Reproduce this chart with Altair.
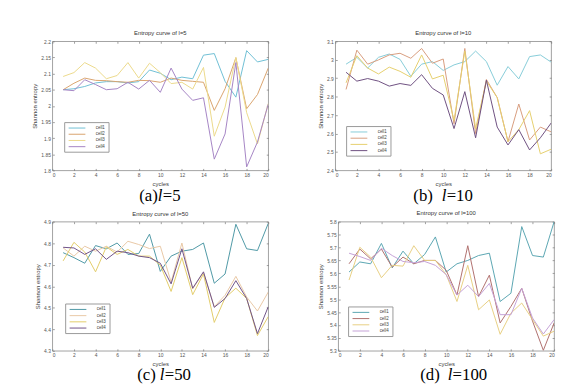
import altair as alt
import pandas as pd

cycles = list(range(1, 21))
cells = ["cell1", "cell2", "cell3", "cell4"]
x_ticks = list(range(0, 21, 2))

# (a) l=5
a_cell1 = [2.050, 2.053, 2.060, 2.071, 2.075, 2.075, 2.071, 2.075, 2.111, 2.101, 2.081, 2.089, 2.084, 2.157, 2.162, 2.076, 2.027, 2.171, 2.136, 2.144]
a_cell2 = [2.050, 2.070, 2.086, 2.079, 2.078, 2.075, 2.073, 2.079, 2.078, 2.073, 2.086, 2.079, 2.076, 2.073, 1.986, 2.053, 2.149, 1.991, 2.035, 2.117]
a_cell3 = [2.091, 2.103, 2.134, 2.117, 2.084, 2.094, 2.134, 2.086, 2.132, 2.103, 2.069, 2.073, 2.052, 2.119, 1.906, 1.996, 2.150, 1.979, 1.882, 2.007]
a_cell4 = [2.050, 2.047, 2.081, 2.066, 2.050, 2.053, 2.073, 2.052, 2.079, 2.042, 2.117, 2.052, 2.017, 2.025, 1.835, 1.913, 2.134, 1.811, 1.888, 2.005]
a_yticks = [1.8, 1.85, 1.9, 1.95, 2.0, 2.05, 2.1, 2.15, 2.2]

# (b) l=10
b_cell1 = [2.976, 3.013, 2.955, 3.013, 3.031, 3.002, 2.910, 2.976, 2.990, 2.942, 2.972, 2.990, 3.047, 2.990, 2.862, 2.963, 2.896, 3.017, 3.026, 2.987]
b_cell2 = [2.839, 3.052, 2.976, 2.999, 3.026, 3.035, 3.008, 3.061, 2.981, 3.004, 2.653, 3.061, 2.600, 2.893, 2.795, 2.556, 2.760, 2.565, 2.635, 2.609]
b_cell3 = [2.875, 3.022, 2.955, 2.923, 2.960, 2.937, 2.905, 3.026, 2.896, 2.916, 2.671, 3.047, 2.627, 2.884, 2.795, 2.556, 2.621, 2.724, 2.490, 2.515]
b_cell4 = [2.932, 2.884, 2.898, 2.884, 2.857, 2.871, 2.861, 2.919, 2.845, 2.809, 2.627, 2.827, 2.577, 2.889, 2.635, 2.538, 2.621, 2.511, 2.577, 2.657]
b_yticks = [2.4, 2.5, 2.6, 2.7, 2.8, 2.9, 3.0, 3.1]

# (c) l=50
c_cell1 = [4.756, 4.733, 4.707, 4.789, 4.774, 4.801, 4.748, 4.752, 4.842, 4.669, 4.740, 4.763, 4.771, 4.801, 4.614, 4.657, 4.888, 4.774, 4.766, 4.892]
c_cell2 = [4.778, 4.740, 4.786, 4.763, 4.786, 4.759, 4.809, 4.794, 4.775, 4.786, 4.619, 4.801, 4.588, 4.664, 4.505, 4.558, 4.646, 4.550, 4.485, 4.573]
c_cell3 = [4.718, 4.804, 4.759, 4.667, 4.783, 4.748, 4.771, 4.740, 4.740, 4.698, 4.576, 4.733, 4.561, 4.657, 4.432, 4.546, 4.591, 4.543, 4.371, 4.459]
c_cell4 = [4.781, 4.778, 4.748, 4.774, 4.725, 4.763, 4.756, 4.740, 4.733, 4.707, 4.611, 4.774, 4.591, 4.667, 4.502, 4.543, 4.626, 4.543, 4.380, 4.505]
c_yticks = [4.3, 4.4, 4.5, 4.6, 4.7, 4.8, 4.9]

# (d) l=100
d_cell1 = [5.605, 5.644, 5.637, 5.716, 5.621, 5.686, 5.637, 5.673, 5.741, 5.605, 5.637, 5.650, 5.669, 5.678, 5.491, 5.523, 5.781, 5.669, 5.663, 5.800]
d_cell2 = [5.637, 5.694, 5.656, 5.694, 5.624, 5.663, 5.637, 5.650, 5.650, 5.612, 5.516, 5.707, 5.510, 5.593, 5.408, 5.472, 5.542, 5.415, 5.302, 5.408]
d_cell3 = [5.574, 5.701, 5.663, 5.583, 5.631, 5.628, 5.707, 5.650, 5.650, 5.595, 5.491, 5.631, 5.459, 5.497, 5.364, 5.446, 5.485, 5.421, 5.357, 5.376]
d_cell4 = [5.678, 5.665, 5.650, 5.697, 5.669, 5.646, 5.641, 5.646, 5.631, 5.595, 5.516, 5.554, 5.510, 5.561, 5.440, 5.440, 5.542, 5.427, 5.365, 5.421]
d_yticks = [5.3, 5.35, 5.4, 5.45, 5.5, 5.55, 5.6, 5.65, 5.7, 5.75, 5.8]

titles = ["Entropy curve of l=5", "Entropy curve of l=10", "Entropy curve of l=50", "Entropy curve of l=100"]
cap_prefix = ["(a)", "(b)", "(c)", "(d)"]
cap_italic = ["l", "l", "l", "l"]
cap_suffix = ["=5", "=10", "=50", "=100"]

W, H = 219, 131


def panel(i, series, ydom, yticks, colors, leg_xy, cap_x):
    rows = []
    for name, vals in zip(cells, series):
        for c, v in zip(cycles, vals):
            rows.append({"cycle": c, "cell": name, "entropy": v})
    df = pd.DataFrame(rows)
    xscale = alt.Scale(domain=[0, 20], nice=False)
    yscale = alt.Scale(domain=ydom, nice=False, zero=False)
    lines = alt.Chart(df).mark_line(strokeWidth=1, clip=True).encode(
        x=alt.X("cycle:Q", scale=xscale,
                axis=alt.Axis(values=x_ticks, title="cycles", format="d")),
        y=alt.Y("entropy:Q", scale=yscale,
                axis=alt.Axis(values=yticks, title="Shannon entropy", format="~g")),
        color=alt.Color("cell:N", scale=alt.Scale(domain=cells, range=colors),
                        legend=alt.Legend(orient="none", legendX=leg_xy[0], legendY=leg_xy[1],
                                          title=None, fillColor="white", strokeColor="#999",
                                          padding=3, symbolType="M-3.4,0H3.4", symbolSize=25,
                                          symbolStrokeWidth=1, symbolOffset=7, labelOffset=16,
                                          labelFontSize=4.5, labelColor="#444", rowPadding=1.3,
                                          labelFont="Liberation Sans")),
    )
    # tick marks on the top and right edges of the box
    frame = alt.Chart(df).mark_point(opacity=0).encode(
        x=alt.X("cycle:Q", scale=xscale,
                axis=alt.Axis(values=x_ticks, title=None, labels=False, orient="top")),
        y=alt.Y("entropy:Q", scale=yscale,
                axis=alt.Axis(values=yticks, title=None, labels=False, orient="right")),
    )
    cap = pd.DataFrame({"p": [cap_prefix[i]], "l": [cap_italic[i]], "s": [cap_suffix[i]]})
    base = alt.Chart(cap)
    t1 = base.mark_text(font="Liberation Serif", fontSize=17, align="right", baseline="alphabetic", color="black").encode(
        x=alt.value(cap_x[0]), y=alt.value(cap_x[3]), text="p:N")
    t2 = base.mark_text(font="Liberation Serif", fontSize=17, fontStyle="italic", align="left", baseline="alphabetic", color="black").encode(
        x=alt.value(cap_x[1]), y=alt.value(cap_x[3]), text="l:N")
    t3 = base.mark_text(font="Liberation Serif", fontSize=17, align="left", baseline="alphabetic", color="black").encode(
        x=alt.value(cap_x[2]), y=alt.value(cap_x[3]), text="s:N")
    return alt.layer(lines, frame, t1, t2, t3).resolve_axis(x="independent", y="independent").properties(
        width=W, height=H,
        title=alt.TitleParams(titles[i], fontSize=6, offset=3, anchor="middle",
                              fontWeight="normal", color="#333", font="Liberation Sans"),
    )


pa = panel(0, [a_cell1, a_cell2, a_cell3, a_cell4], [1.8, 2.2], a_yticks,
           ["#6fbfd4", "#d9a46e", "#ecd98a", "#a584c4"], (12, 82), (107, 107, 112, 162))
pb = panel(1, [b_cell1, b_cell2, b_cell3, b_cell4], [2.4, 3.1], b_yticks,
           ["#86ccd8", "#d79c7e", "#e6cf6e", "#6e4f80"], (11, 86), (99, 108, 113, 162))
pc = panel(2, [c_cell1, c_cell2, c_cell3, c_cell4], [4.3, 4.9], c_yticks,
           ["#4e98a6", "#e9c8a6", "#e3cc6a", "#6f5288"], (13, 83), (105, 109, 114, 161))
pd_ = panel(3, [d_cell1, d_cell2, d_cell3, d_cell4], [5.3, 5.8], d_yticks,
            ["#5aa6b2", "#b0706e", "#e8cf82", "#c4a2d6"], (10, 86), (103, 111, 116, 161))

row1 = alt.hconcat(pa, pb, spacing=45).resolve_scale(color="independent")
row2 = alt.hconcat(pc, pd_, spacing=45).resolve_scale(color="independent")

chart = alt.vconcat(row1, row2, spacing=4).resolve_scale(color="independent").properties(
    padding={"left": 23, "top": 19, "right": 5, "bottom": 5}, background="white"
).configure_view(
    stroke="#777", strokeWidth=0.7
).configure_axis(
    grid=False, domain=False, ticks=True, tickSize=2, tickColor="#777", tickWidth=0.7,
    offset=-2, labelFontSize=5, labelColor="#555", labelPadding=2, labelFont="Liberation Sans",
    titleFontSize=6, titleColor="#444", titleFontWeight="normal", titleFont="Liberation Sans",
    titlePadding=3
)

chart.save("out.html", embed_options={"renderer": "svg", "actions": False})
